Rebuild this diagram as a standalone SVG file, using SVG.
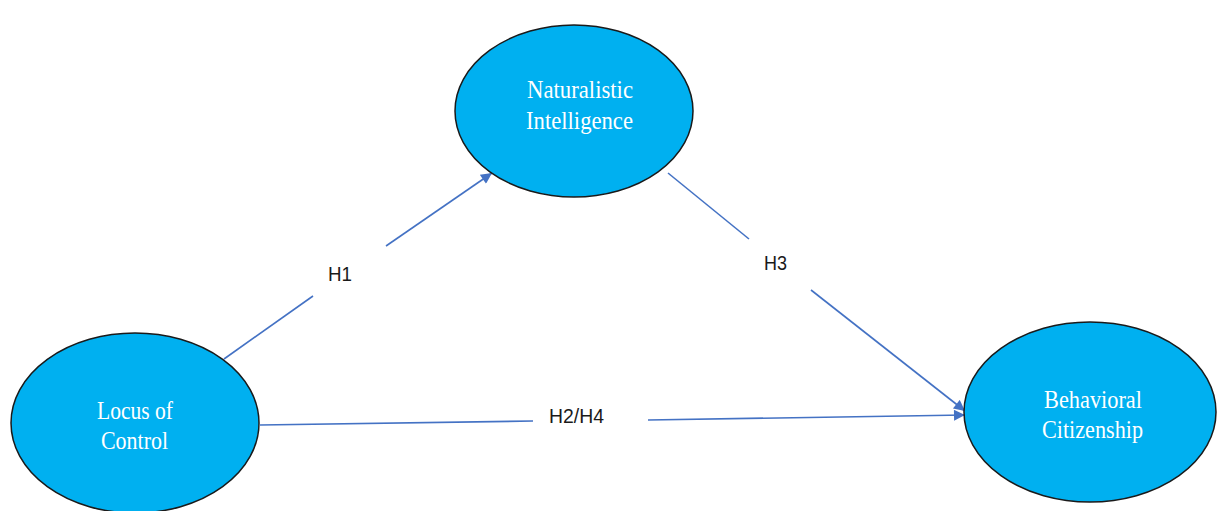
<svg xmlns="http://www.w3.org/2000/svg" width="1217" height="511" viewBox="0 0 1217 511">
  <style>
    .node { fill: #00B0F0; stroke: #1a1a1a; stroke-width: 1.5; }
    .nlabel { font-family: "Liberation Serif", "DejaVu Serif", serif; font-size: 26px; fill: #ffffff; text-anchor: middle; }
    .conn { stroke: #4472C4; stroke-width: 1.6; fill: none; }
    .elabel { font-family: "Liberation Sans", "DejaVu Sans", sans-serif; font-size: 21px; fill: #1a1a1a; }
  </style>
  <defs>
    <marker id="arrow" viewBox="0 0 10 10" refX="10" refY="5" markerWidth="13" markerHeight="11" markerUnits="userSpaceOnUse" orient="auto">
      <path d="M0,0 L10,5 L0,10 Z" fill="#4472C4"/>
    </marker>
  </defs>
  <rect width="1217" height="511" fill="#ffffff"/>

  <g id="connectors">
    <line class="conn" x1="224" y1="359" x2="313" y2="296"/>
    <line class="conn" x1="386" y1="246" x2="492" y2="173" marker-end="url(#arrow)"/>
    <line class="conn" x1="668" y1="173" x2="749" y2="239"/>
    <line class="conn" x1="811" y1="290" x2="965" y2="411" marker-end="url(#arrow)"/>
    <line class="conn" x1="260" y1="425" x2="533" y2="421"/>
    <line class="conn" x1="648" y1="420" x2="965" y2="415" marker-end="url(#arrow)"/>
    <text class="elabel" x="328" y="281" textLength="24" lengthAdjust="spacingAndGlyphs">H1</text>
    <text class="elabel" x="764" y="270" textLength="23" lengthAdjust="spacingAndGlyphs">H3</text>
    <text class="elabel" x="549" y="423" textLength="55" lengthAdjust="spacingAndGlyphs">H2/H4</text>
  </g>

  <g id="naturalistic-intelligence">
    <ellipse class="node" cx="574" cy="111" rx="119" ry="86"/>
    <text class="nlabel" x="580" y="98" textLength="106" lengthAdjust="spacingAndGlyphs">Naturalistic</text>
    <text class="nlabel" x="579.5" y="129" textLength="107" lengthAdjust="spacingAndGlyphs">Intelligence</text>
  </g>

  <g id="locus-of-control">
    <ellipse class="node" cx="135" cy="423" rx="124" ry="90"/>
    <text class="nlabel" x="135" y="419" textLength="76" lengthAdjust="spacingAndGlyphs">Locus of</text>
    <text class="nlabel" x="134.5" y="449" textLength="67" lengthAdjust="spacingAndGlyphs">Control</text>
  </g>

  <g id="behavioral-citizenship">
    <ellipse class="node" cx="1090" cy="412" rx="126" ry="90"/>
    <text class="nlabel" x="1093" y="408" textLength="98" lengthAdjust="spacingAndGlyphs">Behavioral</text>
    <text class="nlabel" x="1092.5" y="438" textLength="101" lengthAdjust="spacingAndGlyphs">Citizenship</text>
  </g>
</svg>
